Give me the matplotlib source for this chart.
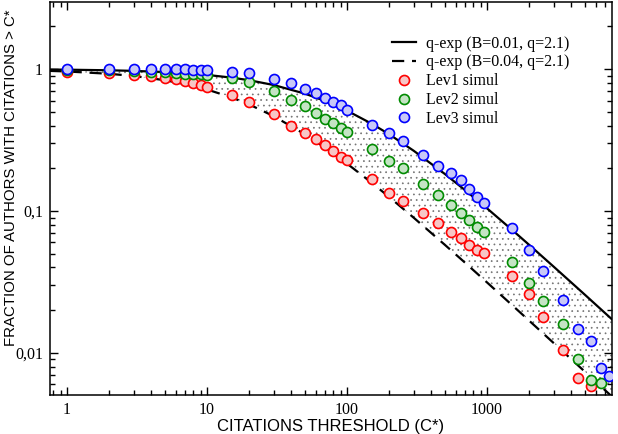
import matplotlib
matplotlib.use("Agg")
import matplotlib.pyplot as plt
from matplotlib.ticker import FixedLocator, LogLocator, NullFormatter

# Citation thresholds shared by the simulated series
cites = [1, 2, 3, 4, 5, 6, 7, 8, 9, 10,
         15, 20, 30, 40, 50, 60, 70, 80, 90, 100,
         150, 200, 250, 350, 450, 550, 650, 750, 850, 950,
         1500, 2000, 2500, 3500, 4500, 5500, 6500, 7500]

lev1 = [0.957, 0.942, 0.907, 0.893, 0.869, 0.846, 0.823, 0.793, 0.771, 0.751,
        0.656, 0.589, 0.482, 0.397, 0.352, 0.320, 0.292, 0.266, 0.241, 0.229,
        0.167, 0.135, 0.118, 0.0973, 0.0827, 0.0715, 0.0642, 0.0576, 0.0531, 0.0508,
        0.0348, 0.026, 0.018, 0.0105, 0.00663, 0.00582, 0.0045, 0.004]

lev2 = [0.99, 0.98, 0.97, 0.96, 0.95, 0.94, 0.93, 0.925, 0.92, 0.915,
        0.86, 0.81, 0.70, 0.61, 0.55, 0.49, 0.445, 0.415, 0.385, 0.36,
        0.272, 0.226, 0.20, 0.155, 0.13, 0.110, 0.0964, 0.0865, 0.0775, 0.0715,
        0.044, 0.031, 0.0233, 0.0159, 0.0091, 0.00645, 0.00612, 0.0045]

lev3 = [1.0, 1.0, 1.0, 1.0, 1.0, 1.0, 0.995, 0.99, 0.99, 0.99,
        0.957, 0.933, 0.846, 0.793, 0.719, 0.674, 0.63, 0.589, 0.558, 0.514,
        0.403, 0.356, 0.309, 0.248, 0.207, 0.184, 0.165, 0.144, 0.126, 0.113,
        0.0755, 0.0532, 0.038, 0.0236, 0.0148, 0.0122, 0.0078, 0.0069]

# q-exp curves
curve_x = [0.75, 1, 2, 3, 5, 7, 10, 15, 20, 30, 50, 70, 100, 150, 200, 300,
           500, 700, 1000, 1500, 2000, 3000, 5000, 7800]
qexp_b001 = [0.9926, 0.990, 0.9804, 0.9709, 0.9525, 0.9348, 0.9095, 0.8704,
             0.8346, 0.7717, 0.6714, 0.5951, 0.5094, 0.4123, 0.3473, 0.2655,
             0.1824, 0.1399, 0.1045, 0.0741, 0.0578, 0.0405, 0.02575, 0.01729]
qexp_b004 = [0.9709, 0.9616, 0.9262, 0.8934, 0.8346, 0.7834, 0.7179, 0.6308,
             0.5633, 0.4653, 0.3473, 0.2785, 0.2159, 0.1582, 0.1256, 0.0896,
             0.0578, 0.0431, 0.03142, 0.02188, 0.01690, 0.01173, 0.00739, 0.00494]

series = [("Lev1 simul", lev1, "#ff0000", "#f7c6c6"),
          ("Lev2 simul", lev2, "#008b00", "#c4e4c4"),
          ("Lev3 simul", lev3, "#0000ff", "#c8c8f7")]

serif = "Liberation Serif"
sans = "Liberation Sans"
plt.rcParams["hatch.linewidth"] = 0.5

fig = plt.figure(figsize=(6.18, 4.34), dpi=100)
ax = fig.add_axes([0.081, 0.090, 0.909, 0.905])
ax.set_xscale("log")
ax.set_yscale("log")

# dotted band between the two curves
ax.fill_between(curve_x, qexp_b004, qexp_b001, facecolor="none",
                edgecolor="0.45", linewidth=0, hatch="...", zorder=1)

ax.plot(curve_x, qexp_b001, color="black", lw=1.6, zorder=2,
        label="q-exp (B=0.01, q=2.1)")
ax.plot(curve_x, qexp_b004, color="black", lw=1.6, ls=(0, (5.5, 3.5)), zorder=2,
        label="q-exp (B=0.04, q=2.1)")

for i, (name, vals, col, face) in enumerate(series):
    ax.plot(cites, vals, ls="none", marker="o", ms=7.2, mew=1.2,
            mec=col, mfc=face, zorder=3 + i, label=name)

ax.set_xlim(0.756, 7800)
ax.set_ylim(0.00506, 2.96)

ax.xaxis.set_major_locator(FixedLocator([1, 10, 100, 1000]))
ax.set_xticklabels(["1", "10", "100", "1000"])
ax.xaxis.set_minor_locator(LogLocator(base=10, subs=range(2, 10), numticks=20))
ax.xaxis.set_minor_formatter(NullFormatter())
ax.yaxis.set_major_locator(FixedLocator([0.01, 0.1, 1]))
ax.set_yticklabels(["0,01", "0,1", "1"])
ax.yaxis.set_minor_locator(LogLocator(base=10, subs=range(2, 10), numticks=20))
ax.yaxis.set_minor_formatter(NullFormatter())

ax.tick_params(which="both", direction="in", top=True, right=True, width=1)
ax.tick_params(which="major", length=6, pad=5)
ax.tick_params(which="minor", length=3.5)
for lab in ax.get_xticklabels() + ax.get_yticklabels():
    lab.set_fontfamily(serif)
    lab.set_fontsize(11.5)
for sp in ax.spines.values():
    sp.set_linewidth(1.1)

ax.set_xlabel("CITATIONS THRESHOLD (C*)", fontfamily=sans, fontsize=12, labelpad=1)
ax.set_ylabel("FRACTION OF AUTHORS WITH CITATIONS > C*", fontfamily=sans,
              fontsize=10.8)
ax.yaxis.set_label_coords(-0.057, 0.552)

ax.legend(loc="upper left", bbox_to_anchor=(0.608, 0.915), frameon=False,
          prop={"family": serif, "size": 11.5}, handlelength=1.5,
          handletextpad=0.65, labelspacing=0.18, borderpad=0, borderaxespad=0)

plt.savefig("out.png", dpi=100)
